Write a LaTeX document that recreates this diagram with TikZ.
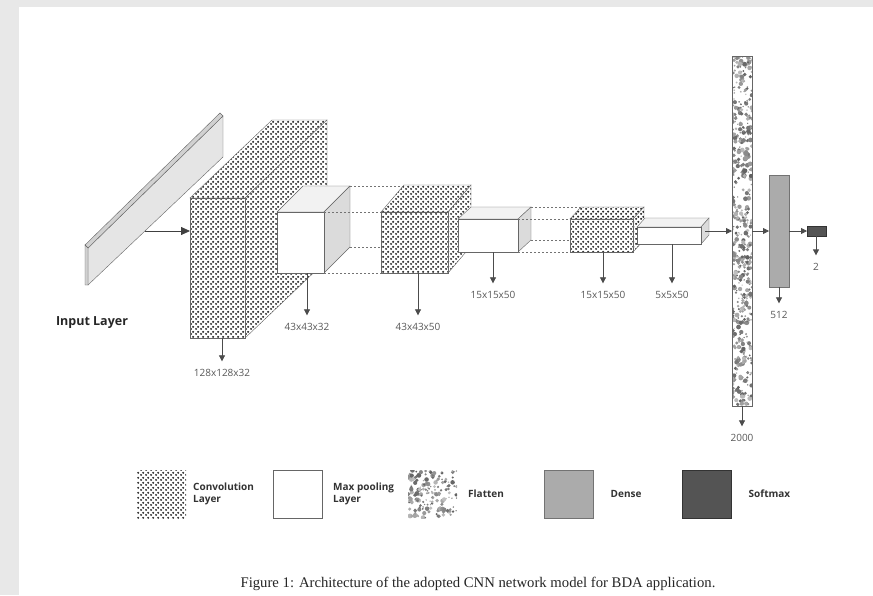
\documentclass[tikz,border=0pt]{standalone}
\usepackage{fontspec}
\newfontfamily\lblfont{Open Sans}
\newfontfamily\capfont{Liberation Serif}
\usetikzlibrary{arrows.meta, positioning, patterns.meta}

\tikzdeclarepattern{
  name=convdots,
  type=uncolored,
  bounding box={(0pt,0pt) and (5pt,5pt)},
  tile size={(5pt,5pt)},
  code={
    \fill (1.25pt,1.25pt) circle (1.3pt);
    \fill (3.75pt,3.75pt) circle (1.3pt);
  }
}

\newcommand{\cnnbox}[8]{%
  \draw[#2 top] (#3,#4) -- ++(#7,#8) -- ++(#5,0) -- ++({-(#7)},{-(#8)}) -- cycle;
  \draw[#2 side] ({#3+#5},#4) -- ++(#7,#8) -- ++(0,#6) -- ++({-(#7)},{-(#8)}) -- cycle;
  \node[#2 front, minimum width=#5pt, minimum height=#6pt] (#1) at ({#3+#5/2},{#4+#6/2}) {};
  \coordinate (#1-bnw) at ({#3+#7},{#4+#8});
  \coordinate (#1-bne) at ({#3+#5+#7},{#4+#8});
  \coordinate (#1-bse) at ({#3+#5+#7},{#4+#6+#8});
  \coordinate (#1-side) at ({#3+#5+#7/2},{#4+#6/2+#8/2});
}

\newcommand{\flattex}[2]{%
  \pgfmathtruncatemacro{\blobcount}{#1*#2/13}%
  \foreach \i in {1,...,\blobcount}{%
    \pgfmathsetmacro{\bx}{(rnd-0.5)*#1}%
    \pgfmathsetmacro{\by}{(rnd-0.5)*#2}%
    \pgfmathsetmacro{\br}{0.6+1.8*rnd}%
    \pgfmathtruncatemacro{\bs}{25+38*rnd}%
    \fill[black!\bs] ([shift={(\bx pt,\by pt)}]path picture bounding box.center) circle (\br pt);
  }%
}

\begin{document}
\begin{tikzpicture}[
    x=1pt, y=-1pt,
    conv top/.style={draw=black!60, preaction={fill=white}, pattern=convdots, pattern color=black!85},
    conv side/.style={conv top},
    conv front/.style={conv top, inner sep=0pt, outer sep=0pt},
    pool top/.style={draw=black!60, fill=black!5},
    pool side/.style={draw=black!60, fill=black!14},
    pool front/.style={draw=black!60, fill=white, inner sep=0pt, outer sep=0pt},
    flatcol/.style 2 args={draw=black!60, fill=white, inner sep=0pt, outer sep=0pt,
                 minimum width=#1pt, minimum height=#2pt, path picture={\flattex{#1}{#2}}},
    densecol/.style={draw=black!55, fill=black!33, inner sep=0pt, outer sep=0pt},
    softcol/.style={draw=black!80, fill=black!67, inner sep=0pt, outer sep=0pt},
    slab/.style={draw=black!60, fill=black!10},
    dimlabel/.style={font=\lblfont\fontsize{10}{12}\selectfont, text=black!65,
                 inner sep=1pt, outer sep=7pt},
    legbox/.style={minimum width=49pt, minimum height=48pt},
    legtext/.style={font=\lblfont\bfseries\fontsize{10}{12}\selectfont, text=black!80,
                 align=left, inner sep=0pt},
    arr/.style={-{Triangle[length=6pt, width=6pt]}, draw=black!70, line width=0.8pt},
    bigarr/.style={-{Triangle[length=9pt, width=8pt]}, draw=black!75, line width=0.8pt},
    dashline/.style={draw=black!55, line width=0.8pt, dash pattern=on 2pt off 2pt}
  ]

  \pgfmathsetseed{42}
  \useasboundingbox (0,0) rectangle (873,595);
  \fill[black!9] (0,0) rectangle (873,595);
  \fill[white] (19,7) rectangle (873,595);

  \draw[slab] (88,285) -- (223,157) -- (223,116) -- (88,248) -- cycle;
  \draw[slab, fill=black!18] (85,245) -- (220,113) -- (223,116) -- (88,248) -- cycle;
  \draw[slab, fill=black!18] (85,245) -- (88,248) -- (88,285) -- (85,285) -- cycle;
  \coordinate (inp) at (145,231);
  \node[font=\lblfont\bfseries\fontsize{12.5}{14}\selectfont, text=black!85] (inlabel) at (92,323) {Input Layer};

  \cnnbox{c1}{conv}{190}{198}{55}{140}{82}{-78}
  \cnnbox{p1}{pool}{277}{212}{47}{61}{26}{-26}

  \draw[dashline] (p1-bne) -- ++(54,0);
  \draw[dashline] (p1.north east) -- ++(57,0);
  \draw[dashline] (p1-bse) -- ++(31,0);
  \draw[dashline] (p1.south east) -- ++(57,0);

  \cnnbox{c2}{conv}{381}{212}{67}{61}{23}{-27}
  \cnnbox{p2}{pool}{458}{219}{60}{33}{13}{-12}

  \draw[dashline] (p2-bne) -- ++(50,0);
  \draw[dashline] (p2.north east) -- ++(52,0);
  \draw[dashline] (p2-bse) -- ++(39,0);
  \draw[dashline] (p2.south east) -- ++(52,0);

  \cnnbox{c3}{conv}{570}{219}{63}{33}{11}{-12}
  \cnnbox{p3}{pool}{637}{227}{64}{17}{8}{-9}

  \node[flatcol={20}{350}] (flat) at (742,231) {};
  \node[densecol, minimum width=20pt, minimum height=112pt] (dense) at (779,231) {};
  \node[softcol, minimum width=19pt, minimum height=10pt] (soft) at (816.5,231) {};

  \draw[bigarr] (inp) -- (inp -| c1.west);
  \draw[arr] (p3-side) -- (p3-side -| flat.west);
  \draw[arr] (flat.east) -- (dense.west);
  \draw[arr] (dense.east) -- (soft.west);

  \node[dimlabel] (d1) at (222,373) {128x128x32};
  \node[dimlabel] (d2) at (307,327) {43x43x32};
  \node[dimlabel] (d3) at (418,327) {43x43x50};
  \node[dimlabel] (d4) at (493,295) {15x15x50};
  \node[dimlabel] (d5) at (603,295) {15x15x50};
  \node[dimlabel] (d6) at (672,295) {5x5x50};
  \node[dimlabel] (d7) at (742,438) {2000};
  \node[dimlabel] (d8) at (779,315) {512};
  \node[dimlabel] (d9) at (816,267) {2};

  \draw[arr] (d1 |- c1.south) -- (d1.north);
  \draw[arr] (d2 |- p1.south) -- (d2.north);
  \draw[arr] (d3 |- c2.south) -- (d3.north);
  \draw[arr] (d4 |- p2.south) -- (d4.north);
  \draw[arr] (d5 |- c3.south) -- (d5.north);
  \draw[arr] (d6 |- p3.south) -- (d6.north);
  \draw[arr] (d7 |- flat.south) -- (d7.north);
  \draw[arr] (d8 |- dense.south) -- (d8.north);
  \draw[arr] (d9 |- soft.south) -- (d9.north);

  \node[conv front, legbox, draw=none] (lgconv) at (161.5,494) {};
  \node[pool front, legbox] (lgpool) at (297.5,494) {};
  \node[flatcol={49}{48}, draw=none] (lgflat) at (432.5,494) {};
  \node[densecol, legbox] (lgdense) at (569,494) {};
  \node[softcol, legbox] (lgsoft) at (707,494) {};

  \node[legtext, right=7pt of lgconv] (txconv) {Convolution\\Layer};
  \node[legtext, right=11pt of lgpool] (txpool) {Max pooling\\Layer};
  \node[legtext, right=11pt of lgflat] (txflat) {Flatten};
  \node[legtext, right=17pt of lgdense] (txdense) {Dense};
  \node[legtext, right=17pt of lgsoft] (txsoft) {Softmax};

  \node[font=\capfont\fontsize{14.7}{17}\selectfont, text=black!85] (caption) at (478,584)
    {Figure 1: Architecture of the adopted CNN network model for BDA application.};

\end{tikzpicture}
\end{document}
